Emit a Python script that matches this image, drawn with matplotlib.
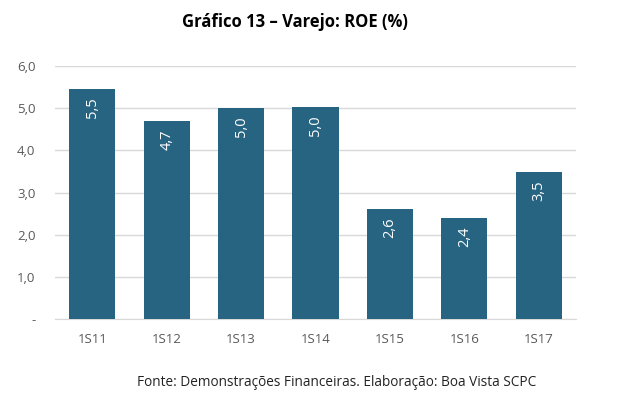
import matplotlib.pyplot as plt
import numpy as np

# data
periods = ['1S11', '1S12', '1S13', '1S14', '1S15', '1S16', '1S17']
roe = [5.45, 4.69, 5.0, 5.03, 2.6, 2.4, 3.48]
y_ticks = [0, 1, 2, 3, 4, 5, 6]
y_labels = ['-', '1,0', '2,0', '3,0', '4,0', '5,0', '6,0']

plt.rcParams['font.family'] = ['Open Sans', 'DejaVu Sans']

fig = plt.figure(figsize=(6.38, 3.97), dpi=100)
ax = fig.add_axes([55 / 638, 1 - 319 / 397, 521 / 638, 253 / 397])

bar_color = '#276482'
x = np.arange(len(periods))
bars = ax.bar(x, roe, width=0.62, color=bar_color, zorder=3)

# value labels rotated, inside the top of each bar
for xi, v in zip(x, roe):
    label = f'{v:.1f}'.replace('.', ',')
    ax.text(xi, v - 0.2, label, rotation=90, ha='center', va='top',
            color='white', fontsize=10.5, zorder=4)

ax.set_xlim(-0.5, len(periods) - 0.5)
ax.set_ylim(0, 6)
ax.set_yticks(y_ticks)
ax.set_yticklabels(y_labels)
ax.set_xticks(x)
ax.set_xticklabels(periods)
ax.tick_params(axis='both', length=0, labelsize=9.5, colors='#595959')
ax.tick_params(axis='x', pad=10)
ax.tick_params(axis='y', pad=14)

ax.grid(axis='y', color='#d9d9d9', linewidth=1, zorder=0)
for side in ['top', 'right', 'left']:
    ax.spines[side].set_visible(False)
ax.spines['bottom'].set_color('#d9d9d9')

fig.text(295 / 638, 1 - 22 / 397, 'Gráfico 13 – Varejo: ROE (%)', ha='center',
         va='center', fontsize=12, fontweight='bold', color='black')
fig.text(337 / 638, 1 - 382 / 397,
         'Fonte: Demonstrações Financeiras. Elaboração: Boa Vista SCPC',
         ha='center', va='center', fontsize=9.8, color='#222222')

fig.savefig('out.png', dpi=100)
